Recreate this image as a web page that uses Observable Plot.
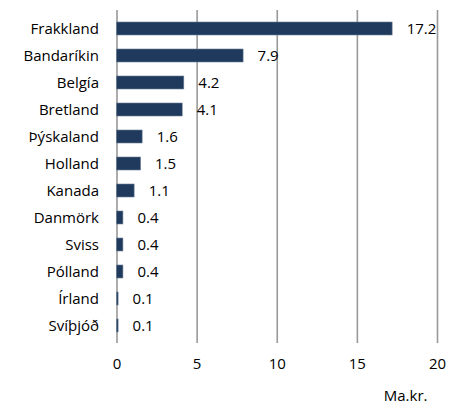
<!DOCTYPE html>
<html><head><meta charset="utf-8">
<script src="https://cdn.jsdelivr.net/npm/d3@7"></script>
<script src="https://cdn.jsdelivr.net/npm/@observablehq/plot@0.6"></script>
<style>body{margin:0;background:#fff}</style>
</head><body><div id="chart"></div>
<script>
const countries = ["Frakkland","Bandaríkin","Belgía","Bretland","Þýskaland","Holland","Kanada","Danmörk","Sviss","Pólland","Írland","Svíþjóð"];
const values = [17.2,7.9,4.2,4.1,1.6,1.5,1.1,0.4,0.4,0.4,0.1,0.1];
const xTicks = [0,5,10,15,20];
const unitLabel = "Ma.kr.";

const data = countries.map((c,i)=>({country:c, value:values[i]}));

const chart = Plot.plot({
  width: 457, height: 405,
  marginLeft: 116.5, marginRight: 20, marginTop: 10, marginBottom: 62,
  style: {fontFamily: "Open Sans", fontSize: "14.5px", color: "#000", background: "#fff"},
  x: {domain: [0,20], ticks: xTicks},
  y: {domain: countries, padding: 0.53, paddingOuter: 0.265},
  marks: [
    Plot.ruleX(xTicks, {stroke: "#999", strokeWidth: 1.6}),
    Plot.barX(data, {y: "country", x: "value", fill: "#1f3a5c", stroke: "#6d7f96", strokeWidth: 0.6}),
    Plot.text(data, {y: "country", x: "value", text: d => d.value.toFixed(1), textAnchor: "start", dx: 14, fill: "#000", fontSize: 15}),
    Plot.axisY({tickSize: 0, tickPadding: 18, label: null, fontSize: 15}),
    Plot.axisX({tickSize: 0, tickPadding: 15, ticks: xTicks, fontSize: 15, label: null}),
    Plot.text([unitLabel], {frameAnchor: "bottom-right", textAnchor: "end", dx: -10, dy: 57, fontSize: 15, fill: "#000"})
  ]
});
document.getElementById("chart").append(chart);
</script>
</body></html>
